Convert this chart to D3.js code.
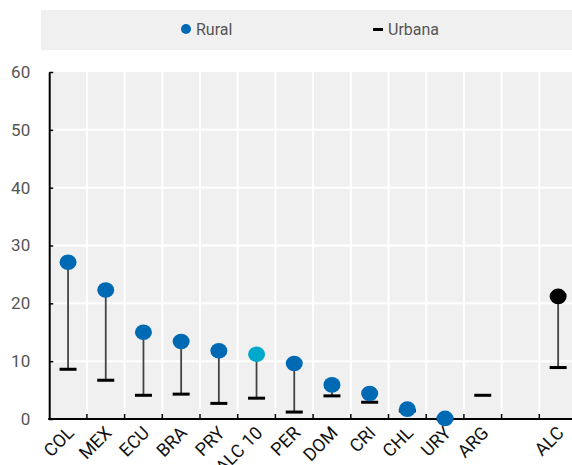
<!DOCTYPE html>
<html>
<head>
<meta charset="utf-8">
<script src="https://cdn.jsdelivr.net/npm/d3@7/dist/d3.min.js"></script>
<style>
  html, body { margin: 0; padding: 0; background: #fff; }
  svg { display: block; font-family: Roboto, "Noto Sans", sans-serif; }
</style>
</head>
<body>
<svg id="chart" width="572" height="465"></svg>
<script>
// Country codes along the x axis (an empty slot separates the regional total)
const categories = ["COL", "MEX", "ECU", "BRA", "PRY", "ALC 10", "PER", "DOM", "CRI", "CHL", "URY", "ARG", "", "ALC"];
// Rural values (null where no value is reported)
const rural = [27.1, 22.3, 15.0, 13.4, 11.8, 11.2, 9.6, 5.9, 4.4, 1.7, 0.1, null, null, 21.2];
// Urban values
const urbana = [8.6, 6.7, 4.1, 4.3, 2.7, 3.6, 1.2, 4.0, 2.9, 1.4, 0.0, 4.1, null, 8.9];
// Dot colour groups: country, regional average of 10, regional total
const dotGroup = ["pais", "pais", "pais", "pais", "pais", "prom", "pais", "pais", "pais", "pais", "pais", "pais", "pais", "total"];
const yTicks = [0, 10, 20, 30, 40, 50, 60];

const colors = { pais: "#0069b4", prom: "#00a9cb", total: "#000000" };

const svg = d3.select("#chart");
const plotLeft = 49.2, plotTop = 72, plotBottom = 419, step = 37.7;

const x = d3.scaleBand()
  .domain(categories.map((d, i) => i))
  .range([plotLeft, plotLeft + step * categories.length])
  .padding(0);
const y = d3.scaleLinear().domain([0, 60]).range([plotBottom, plotTop]);

// Legend band
const legend = svg.append("g");
legend.append("rect").attr("x", 41).attr("y", 10).attr("width", 531).attr("height", 40).attr("fill", "#f0f0f0");
legend.append("circle").attr("cx", 186).attr("cy", 29).attr("r", 5).attr("fill", colors.pais);
legend.append("text").attr("x", 196).attr("y", 35).attr("font-size", 16).attr("fill", "#555").text("Rural");
legend.append("rect").attr("x", 373).attr("y", 28).attr("width", 10).attr("height", 3).attr("fill", "#000");
legend.append("text").attr("x", 388).attr("y", 35).attr("font-size", 16).attr("fill", "#555").text("Urbana");

// Plot background and grid
svg.append("rect")
  .attr("x", plotLeft).attr("y", plotTop)
  .attr("width", step * categories.length).attr("height", plotBottom - plotTop)
  .attr("fill", "#f0f0f0");

const grid = svg.append("g").attr("stroke", "#fff").attr("stroke-width", 2);
grid.selectAll("line.h").data(yTicks.filter(d => d > 0 && d < 60)).join("line")
  .attr("class", "h")
  .attr("x1", plotLeft).attr("x2", 572)
  .attr("y1", d => y(d)).attr("y2", d => y(d));
const boundaries = d3.range(1, categories.length);
grid.selectAll("line.v").data(boundaries).join("line")
  .attr("class", "v")
  .attr("x1", i => x(i)).attr("x2", i => x(i))
  .attr("y1", plotTop).attr("y2", plotBottom);

// Y axis
const yAxis = svg.append("g")
  .attr("transform", `translate(${plotLeft},0)`)
  .call(d3.axisLeft(y).tickValues(yTicks).tickSize(-4).tickPadding(19).tickSizeOuter(0));
yAxis.select(".domain").attr("stroke", "#000").attr("stroke-width", 2);
yAxis.selectAll(".tick line").attr("stroke", "#000").attr("stroke-width", 1.5);
yAxis.selectAll("text").attr("font-size", 17).attr("fill", "#555").attr("font-family", "Roboto, sans-serif");

// X axis
const xAxis = svg.append("g");
xAxis.append("line")
  .attr("x1", plotLeft - 1).attr("x2", 572)
  .attr("y1", plotBottom).attr("y2", plotBottom)
  .attr("stroke", "#000").attr("stroke-width", 2);
xAxis.selectAll("line.t").data(boundaries).join("line")
  .attr("class", "t")
  .attr("x1", i => x(i)).attr("x2", i => x(i))
  .attr("y1", plotBottom).attr("y2", plotBottom - 5)
  .attr("stroke", "#000").attr("stroke-width", 1.5);

// Category labels, slanted 45 degrees up to the right, ending under each slot
xAxis.selectAll("text.lbl")
  .data(categories.map((c, i) => ({ c, i })).filter(d => d.c))
  .join("text")
  .attr("class", "lbl")
  .attr("transform", d => `translate(${x(d.i) + x.bandwidth() / 2 + 7},${plotBottom + 15}) rotate(-45)`)
  .attr("text-anchor", "end")
  .attr("font-size", 18)
  .attr("fill", "#111")
  .text(d => d.c);

// Stems from rural to urban value
const pairs = categories.map((c, i) => ({ i, r: rural[i], u: urbana[i], g: dotGroup[i] }));
svg.append("g").selectAll("line").data(pairs.filter(d => d.r != null && d.u != null)).join("line")
  .attr("x1", d => x(d.i) + x.bandwidth() / 2).attr("x2", d => x(d.i) + x.bandwidth() / 2)
  .attr("y1", d => y(d.r)).attr("y2", d => y(d.u))
  .attr("stroke", "#444").attr("stroke-width", 1.8);

// Urban dashes
svg.append("g").selectAll("rect").data(pairs.filter(d => d.u != null)).join("rect")
  .attr("x", d => x(d.i) + x.bandwidth() / 2 - 8.5)
  .attr("y", d => y(d.u) - 1.5)
  .attr("width", 17).attr("height", 3)
  .attr("fill", "#000");

// Rural dots
svg.append("g").selectAll("ellipse").data(pairs.filter(d => d.r != null)).join("ellipse")
  .attr("cx", d => x(d.i) + x.bandwidth() / 2)
  .attr("cy", d => y(d.r))
  .attr("rx", 8.5).attr("ry", 7.8)
  .attr("fill", d => colors[d.g]);
</script>
</body>
</html>
